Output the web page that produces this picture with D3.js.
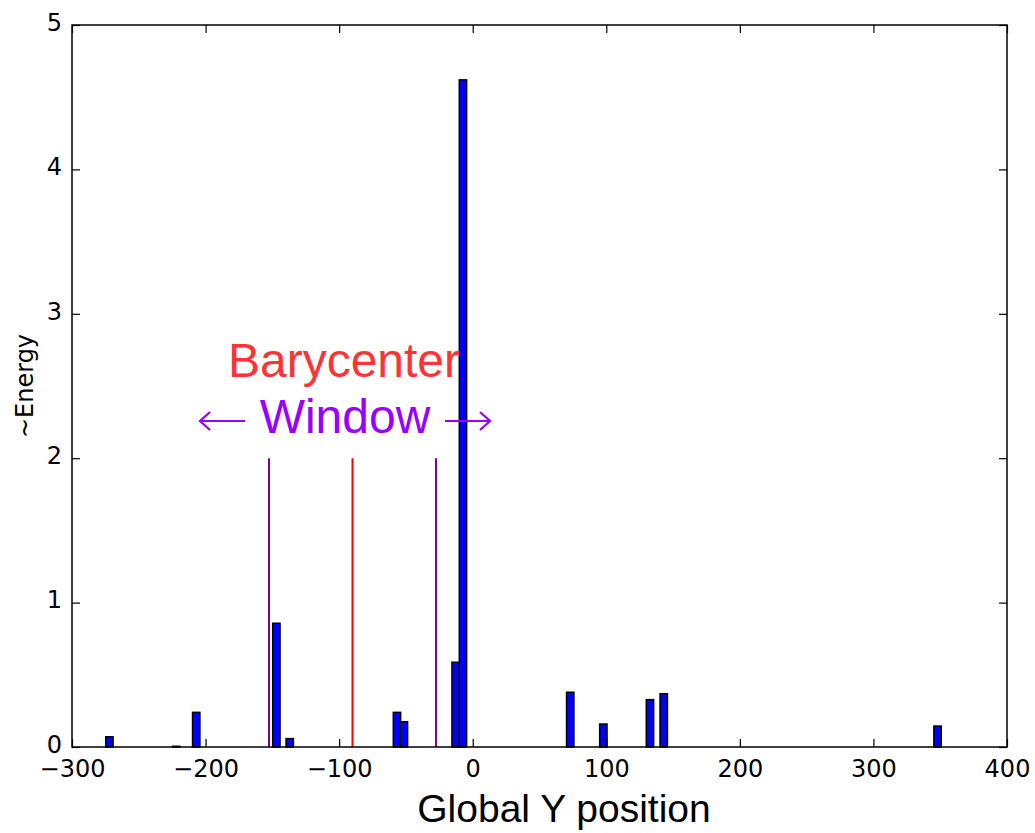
<!DOCTYPE html>
<html><head><meta charset="utf-8">
<script src="https://cdn.jsdelivr.net/npm/d3@7"></script>
<style>body{margin:0;background:#fff}svg{display:block}</style>
</head><body>
<svg id="c" width="1035" height="833"></svg>
<script>
// Data
const binCenters = [-272, -222, -207, -147, -137, -56.7, -51.5, -12.8, -7.3, 73, 97.8, 132.7, 143, 348];
const energies   = [0.071, 0.005, 0.24, 0.857, 0.058, 0.24, 0.175, 0.587, 4.62, 0.379, 0.159, 0.328, 0.369, 0.145];
const binWidth = 5.5;
const xTicks = [-300, -200, -100, 0, 100, 200, 300, 400];
const yTicks = [0, 1, 2, 3, 4, 5];
const barycenter = -90;
const windowEdges = [-152.5, -27.5];
const lineTop = 2;

const m = {l: 72, r: 1007, t: 25, b: 747};
const svg = d3.select('#c');
const x = d3.scaleLinear().domain([-300, 400]).range([m.l, m.r]);
const y = d3.scaleLinear().domain([0, 5]).range([m.b, m.t]);
const font = '"Liberation Sans", Arial, sans-serif';
const tickFont = '"DejaVu Sans", sans-serif';
const violet = '#9900ff';

// bars
svg.append('g').selectAll('rect').data(binCenters).join('rect')
  .attr('x', (d) => x(d - binWidth/2))
  .attr('width', (d) => x(d + binWidth/2) - x(d - binWidth/2))
  .attr('y', (d, i) => y(energies[i]))
  .attr('height', (d, i) => y(0) - y(energies[i]))
  .attr('fill', '#0000ff').attr('stroke', '#000').attr('stroke-width', 1.5);

// vertical lines
svg.append('line').attr('x1', x(barycenter)).attr('x2', x(barycenter))
  .attr('y1', y(0)).attr('y2', y(lineTop)).attr('stroke', '#ff0000').attr('stroke-width', 2);
svg.append('g').selectAll('line').data(windowEdges).join('line')
  .attr('x1', d => x(d)).attr('x2', d => x(d))
  .attr('y1', y(0)).attr('y2', y(lineTop)).attr('stroke', '#800080').attr('stroke-width', 2);

// axes (ticks inside, all sides)
const tl = 8;
const gx = svg.append('g').attr('transform', `translate(0,${m.b})`)
  .call(d3.axisBottom(x).tickValues(xTicks).tickSize(-tl).tickPadding(13).tickFormat(d => d < 0 ? '\u2212' + Math.abs(d) : d));
const gxt = svg.append('g').attr('transform', `translate(0,${m.t})`)
  .call(d3.axisTop(x).tickValues(xTicks).tickSize(-tl).tickFormat(''));
const gy = svg.append('g').attr('transform', `translate(${m.l},0)`)
  .call(d3.axisLeft(y).tickValues(yTicks).tickSize(-tl).tickPadding(10).tickFormat(d3.format('d')));
const gyr = svg.append('g').attr('transform', `translate(${m.r},0)`)
  .call(d3.axisRight(y).tickValues(yTicks).tickSize(-tl).tickFormat(''));
[gx, gxt, gy, gyr].forEach(g => {
  g.select('.domain').remove();
  g.selectAll('line').attr('stroke', '#000').attr('stroke-width', 1.2);
  g.selectAll('text').attr('font-family', tickFont).attr('font-size', 24).attr('fill', '#000');
});
gy.selectAll('text').attr('dy', '0.22em');
svg.append('rect').attr('x', m.l).attr('y', m.t).attr('width', m.r - m.l).attr('height', m.b - m.t)
  .attr('fill', 'none').attr('stroke', '#000').attr('stroke-width', 1.5);

// labels
svg.append('text').attr('x', 564).attr('y', 822).attr('text-anchor', 'middle')
  .attr('font-family', font).attr('font-size', 39).text('Global Y position');
svg.append('text').attr('transform', 'translate(33,386) rotate(-90)').attr('text-anchor', 'middle')
  .attr('font-family', tickFont).attr('font-size', 24).text('~Energy');

// annotations
svg.append('text').attr('x', 344).attr('y', 377).attr('text-anchor', 'middle')
  .attr('font-family', font).attr('font-size', 48).attr('fill', '#ff3333').text('Barycenter');
svg.append('text').attr('x', 345).attr('y', 433).attr('text-anchor', 'middle')
  .attr('font-family', font).attr('font-size', 48).attr('fill', violet).text('Window');
// long arrows
const ay = 421;
const arrows = [{x0: 245, x1: 200}, {x0: 445, x1: 490}];
arrows.forEach(a => {
  const dir = Math.sign(a.x1 - a.x0);
  svg.append('path')
    .attr('d', `M${a.x0},${ay}H${a.x1}M${a.x1 - dir*10},${ay-9}L${a.x1},${ay}L${a.x1 - dir*10},${ay+9}`)
    .attr('fill', 'none').attr('stroke', violet).attr('stroke-width', 2.2);
});
</script>
</body></html>
